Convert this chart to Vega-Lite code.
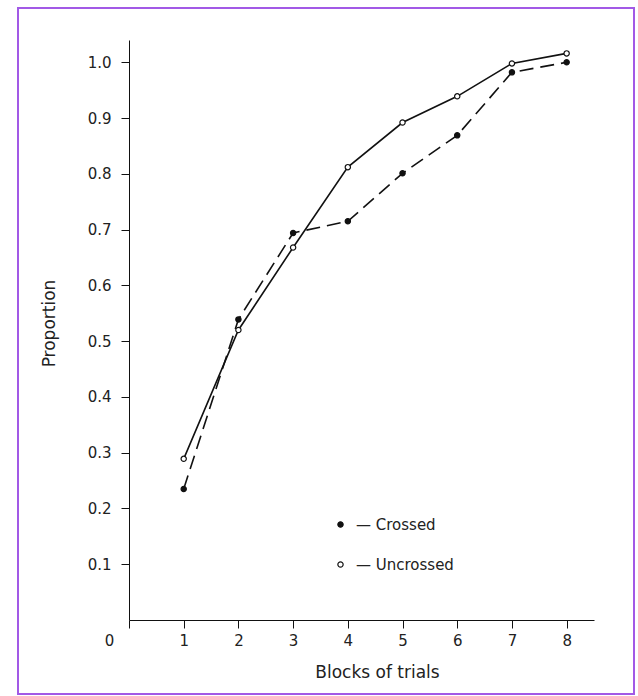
{
  "$schema": "https://vega.github.io/schema/vega-lite/v6.json",
  "width": 616,
  "height": 686,
  "autosize": {"type": "none"},
  "padding": {"left": 18, "top": 8, "right": 4, "bottom": 2},
  "background": "white",
  "config": {
    "view": {"stroke": "#a259e6", "strokeWidth": 2},
    "font": "DejaVu Sans",
    "axis": {"grid": false, "domainColor": "#111", "tickColor": "#111", "labelColor": "#222", "titleColor": "#222", "titleFontWeight": "normal", "labelFlush": false, "labelOverlap": false}
  },
  "data": {
    "values": [
      {"block": 1, "series": "Crossed", "p": 0.235},
      {"block": 2, "series": "Crossed", "p": 0.539},
      {"block": 3, "series": "Crossed", "p": 0.694},
      {"block": 4, "series": "Crossed", "p": 0.715},
      {"block": 5, "series": "Crossed", "p": 0.801},
      {"block": 6, "series": "Crossed", "p": 0.869},
      {"block": 7, "series": "Crossed", "p": 0.982},
      {"block": 8, "series": "Crossed", "p": 1.0},
      {"block": 1, "series": "Uncrossed", "p": 0.289},
      {"block": 2, "series": "Uncrossed", "p": 0.52},
      {"block": 3, "series": "Uncrossed", "p": 0.668},
      {"block": 4, "series": "Uncrossed", "p": 0.812},
      {"block": 5, "series": "Uncrossed", "p": 0.892},
      {"block": 6, "series": "Uncrossed", "p": 0.939},
      {"block": 7, "series": "Uncrossed", "p": 0.998},
      {"block": 8, "series": "Uncrossed", "p": 1.016}
    ]
  },
  "encoding": {
    "x": {
      "field": "block", "type": "quantitative",
      "scale": {"domain": [0, 8.5], "range": [111, 576], "nice": false, "zero": false},
      "axis": {
        "values": [0, 1, 2, 3, 4, 5, 6, 7, 8],
        "offset": -74,
        "tickSize": 8,
        "labelPadding": 5,
        "labelFontSize": 15,
        "labelOffset": {"condition": {"test": "datum.value == 0", "value": -20}, "value": 0},
        "encode": {"ticks": {"update": {"y2": {"value": -8}}}},
        "title": "Blocks of trials",
        "titleFontSize": 17,
        "titleX": 359,
        "titleY": 52,
        "titleBaseline": "middle",
        "titleAlign": "center"
      }
    },
    "y": {
      "field": "p", "type": "quantitative",
      "scale": {"domain": [0, 1.04], "range": [612, 32], "nice": false, "zero": false},
      "axis": {
        "values": [0.1, 0.2, 0.3, 0.4, 0.5, 0.6, 0.7, 0.8, 0.9, 1.0],
        "format": ".1f",
        "offset": -111,
        "tickSize": 8,
        "labelPadding": 10,
        "labelFontSize": 15,
        "encode": {"ticks": {"update": {"x2": {"value": 8}}}},
        "title": "Proportion",
        "titleFontSize": 17,
        "titleAngle": -90,
        "titleX": -80,
        "titleY": 315,
        "titleBaseline": "middle",
        "titleAlign": "center"
      }
    }
  },
  "layer": [
    {
      "transform": [{"filter": "datum.series == 'Crossed'"}],
      "mark": {"type": "line", "color": "#111", "strokeWidth": 1.6, "strokeDash": [14, 7]},
      "encoding": {}
    },
    {
      "transform": [{"filter": "datum.series == 'Uncrossed'"}],
      "mark": {"type": "line", "color": "#111", "strokeWidth": 1.6},
      "encoding": {}
    },
    {
      "mark": {"type": "point", "shape": "circle", "filled": true, "size": 28, "stroke": "#111", "strokeWidth": 1.2, "opacity": 1},
      "encoding": {
        "fill": {
          "field": "series", "type": "nominal",
          "scale": {"domain": ["Crossed", "Uncrossed"], "range": ["#111", "white"]},
          "legend": {
            "orient": "none",
            "legendX": 315,
            "legendY": 509,
            "title": null,
            "padding": 0,
            "symbolType": "circle",
            "symbolSize": 28,
            "symbolStrokeColor": "#111",
            "symbolStrokeWidth": 1.2,
            "labelExpr": "'— ' + datum.label",
            "labelFontSize": 15,
            "labelColor": "#222",
            "labelOffset": 8,
            "rowPadding": 24
          }
        }
      }
    }
  ]
}
